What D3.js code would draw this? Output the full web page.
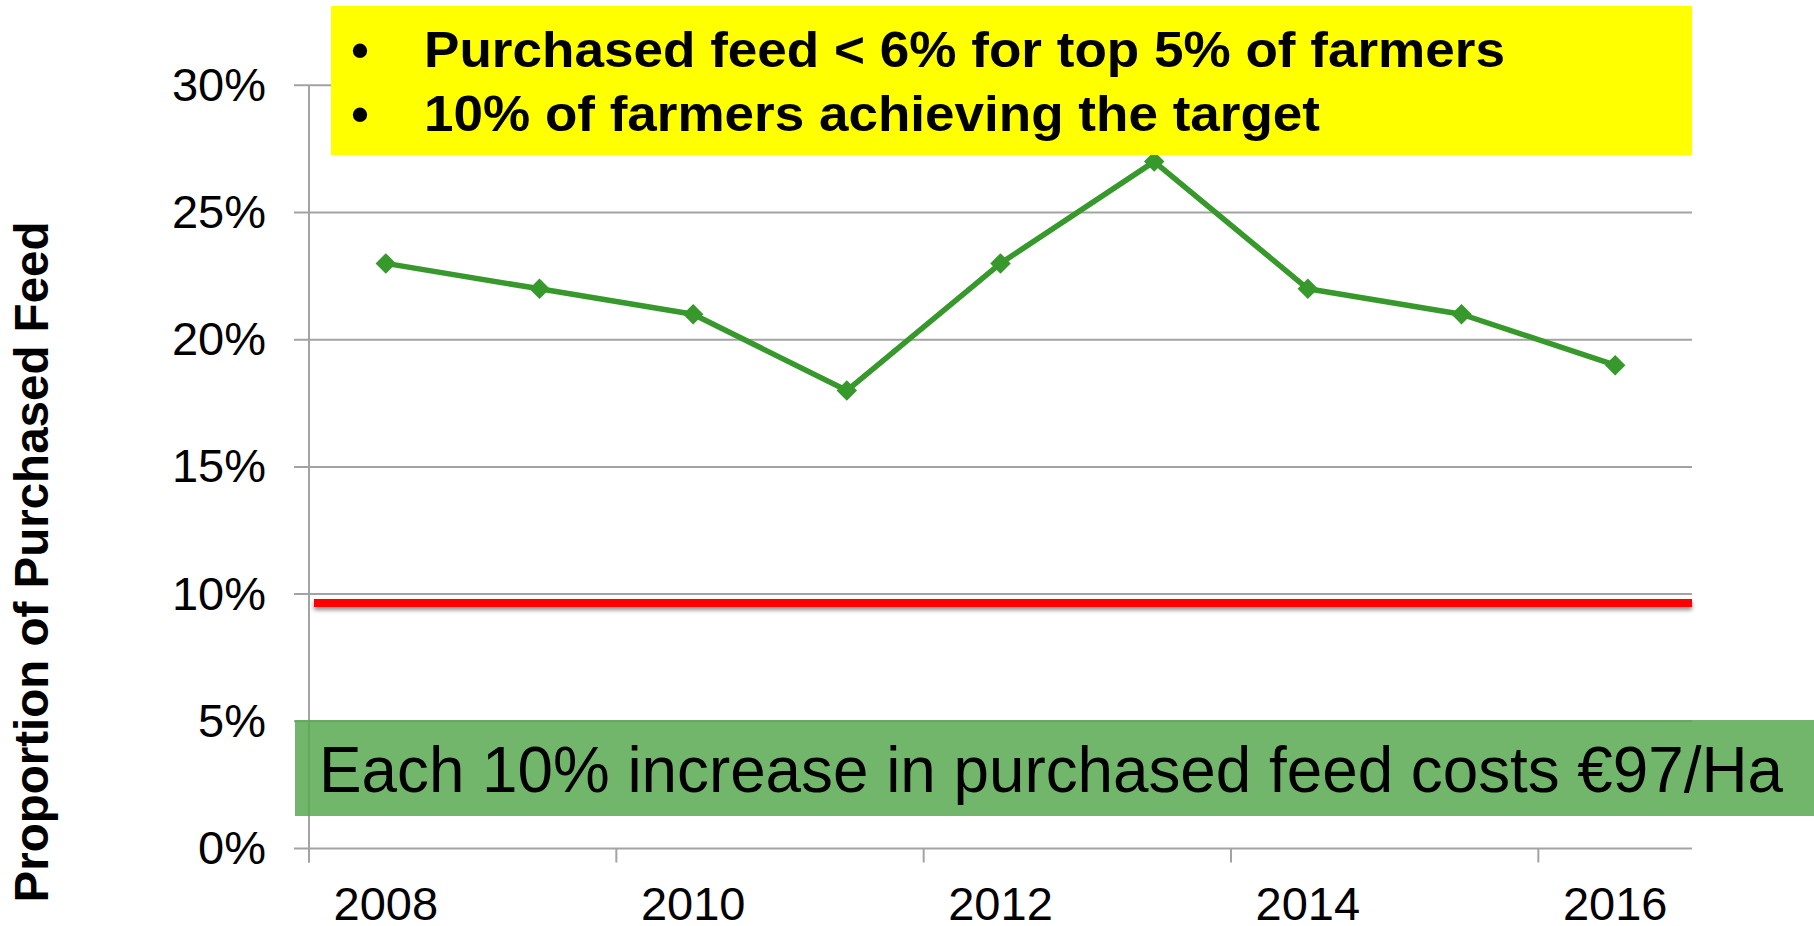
<!DOCTYPE html>
<html>
<head>
<meta charset="utf-8">
<script src="https://cdn.jsdelivr.net/npm/d3@7"></script>
<style>
  html, body { margin: 0; padding: 0; background: #fff; }
  svg { display: block; font-family: "Liberation Sans", Arial, sans-serif; }
</style>
</head>
<body>
<div id="chart"></div>
<script>
var w = 1814;
var h = 926;

// data
var years = ["2008", "2009", "2010", "2011", "2012", "2013", "2014", "2015", "2016"];
var purchasedFeed = [23, 22, 21, 18, 23, 27, 22, 21, 19];
var yTicks = [0, 5, 10, 15, 20, 25, 30];
var xLabels = ["2008", "2010", "2012", "2014", "2016"];
var targetLevel = 9.65;
var bullets = ["Purchased feed < 6% for top 5% of farmers", "10% of farmers achieving the target"];
var costNote = "Each 10% increase in purchased feed costs \u20AC97/Ha";
var yTitle = "Proportion of Purchased Feed";

var plotLeft = 309, plotRight = 1692, plotTop = 85.3, plotBottom = 848.5;

var xScale = d3.scaleBand()
               .domain(years)
               .range([plotLeft, plotRight])
               .padding(0);
var yScale = d3.scaleLinear()
               .domain([0, 30])
               .range([plotBottom, plotTop]);

var svg = d3.select("#chart")
            .append("svg")
            .attr("width", w)
            .attr("height", h);

var defs = svg.append("defs");
var shadow = defs.append("filter").attr("id", "shadow")
    .attr("filterUnits", "userSpaceOnUse")
    .attr("x", 280).attr("y", 560).attr("width", 1440).attr("height", 80);
shadow.append("feDropShadow")
    .attr("dx", 0).attr("dy", 3).attr("stdDeviation", 2.2)
    .attr("flood-color", "#000").attr("flood-opacity", 0.45);

// gridlines
svg.append("g")
    .selectAll("line")
    .data(yTicks)
    .enter()
    .append("line")
    .attr("x1", plotLeft - 15)
    .attr("x2", plotRight)
    .attr("y1", function(d) { return yScale(d); })
    .attr("y2", function(d) { return yScale(d); })
    .attr("stroke", "#a3a3a3")
    .attr("stroke-width", 2);

// y axis
var yAxis = d3.axisLeft(yScale)
    .tickValues(yTicks)
    .tickSize(15)
    .tickPadding(28)
    .tickFormat(function(d) { return d + "%"; });
var gy = svg.append("g")
    .attr("transform", "translate(" + plotLeft + ",0)")
    .call(yAxis);
gy.select(".domain").remove();
gy.selectAll("line").remove();
gy.selectAll("text")
    .attr("font-size", "47px")
    .attr("font-family", "Liberation Sans, Arial, sans-serif")
    .attr("fill", "#000");

svg.append("line")
    .attr("x1", plotLeft).attr("x2", plotLeft)
    .attr("y1", plotTop).attr("y2", plotBottom + 14)
    .attr("stroke", "#a3a3a3")
    .attr("stroke-width", 2);

// x axis - ticks every second year, labels in the middle of the band
var xAxis = d3.axisBottom(xScale)
    .tickValues(xLabels)
    .tickSize(14)
    .tickPadding(24);
var gx = svg.append("g")
    .attr("transform", "translate(0," + plotBottom + ")")
    .call(xAxis);
gx.select(".domain").remove();
gx.selectAll(".tick line")
    .attr("transform", "translate(" + (-xScale.bandwidth() / 2) + ",0)")
    .attr("stroke", "#a3a3a3")
    .attr("stroke-width", 2);
gx.selectAll("text")
    .attr("font-size", "47px")
    .attr("font-family", "Liberation Sans, Arial, sans-serif")
    .attr("fill", "#000");

// target line
svg.append("rect")
    .attr("x", plotLeft + 5)
    .attr("y", yScale(targetLevel) - 4)
    .attr("width", plotRight - plotLeft - 5)
    .attr("height", 8)
    .attr("fill", "#ff0000")
    .attr("filter", "url(#shadow)");

// green note box
svg.append("rect")
    .attr("x", 295)
    .attr("y", 720)
    .attr("width", w - 295)
    .attr("height", 96)
    .attr("fill", "rgb(89,169,81)")
    .attr("fill-opacity", 0.85);
svg.append("text")
    .attr("x", 319)
    .attr("y", 791.7)
    .attr("font-size", "65px")
    .attr("textLength", 1464)
    .attr("lengthAdjust", "spacingAndGlyphs")
    .attr("fill", "#000")
    .text(costNote);

// series line
var line = d3.line()
    .x(function(d, i) { return xScale(years[i]) + xScale.bandwidth() / 2; })
    .y(function(d) { return yScale(d); });

svg.append("path")
    .datum(purchasedFeed)
    .attr("d", line)
    .attr("fill", "none")
    .attr("stroke", "#37982c")
    .attr("stroke-width", 5.5)
    .attr("stroke-linejoin", "round");

svg.selectAll(".marker")
    .data(purchasedFeed)
    .enter()
    .append("path")
    .attr("class", "marker")
    .attr("d", d3.symbol().type(d3.symbolSquare).size(210))
    .attr("transform", function(d, i) {
        return "translate(" + (xScale(years[i]) + xScale.bandwidth() / 2) + "," + yScale(d) + ") rotate(45)";
    })
    .attr("fill", "#37982c");

// yellow callout
svg.append("rect")
    .attr("x", 331)
    .attr("y", 6)
    .attr("width", plotRight - 331)
    .attr("height", 149)
    .attr("fill", "#ffff00");

var callout = svg.append("g")
    .selectAll("g")
    .data(bullets)
    .enter()
    .append("g");
callout.append("text")
    .attr("x", 360)
    .attr("y", function(d, i) { return 66.7 + i * 64; })
    .attr("text-anchor", "middle")
    .attr("font-size", "50px")
    .attr("font-weight", "bold")
    .text("\u2022");
callout.append("text")
    .attr("x", 424)
    .attr("y", function(d, i) { return 66.7 + i * 64; })
    .attr("font-size", "50px")
    .attr("font-weight", "bold")
    .attr("textLength", function(d, i) { return i === 0 ? 1081 : 896; })
    .attr("lengthAdjust", "spacingAndGlyphs")
    .text(function(d) { return d; });

// y title
svg.append("text")
    .attr("transform", "translate(48,562) rotate(-90)")
    .attr("text-anchor", "middle")
    .attr("font-size", "48px")
    .attr("font-weight", "bold")
    .attr("textLength", 681)
    .attr("lengthAdjust", "spacingAndGlyphs")
    .text(yTitle);
</script>
</body>
</html>
